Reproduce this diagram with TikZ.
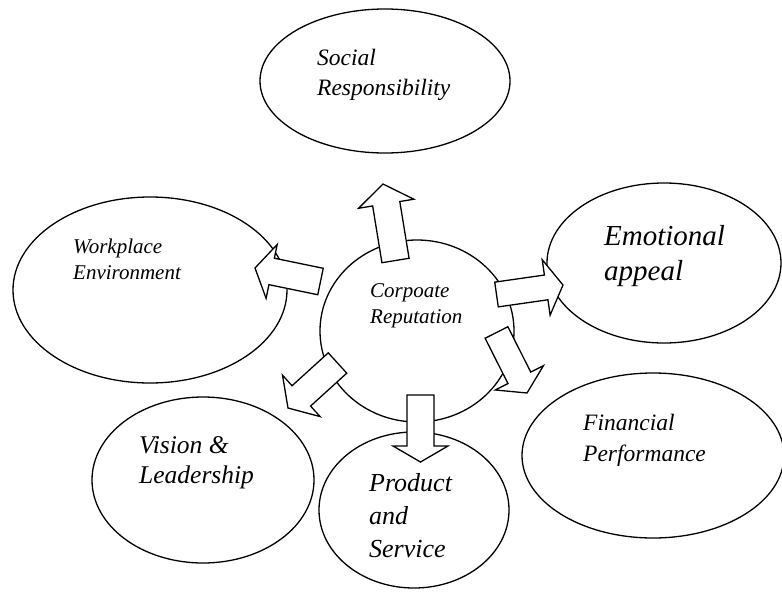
\documentclass[tikz,border=0pt]{standalone}
\usepackage{fontspec}
\setmainfont{Liberation Serif}
\usetikzlibrary{shapes.geometric,calc}

% italic label font: size and leading in pt
\newcommand{\lblfont}[2]{\itshape\fontsize{#1}{#2}\selectfont}

% hollow block arrow from a tail coordinate to a tip coordinate
% #1 tail, #2 tip, #3 half shaft width, #4 half head width, #5 head length
\newcommand{\blockarrow}[5]{%
  \coordinate (#2-hb) at ($(#2)!#5!(#1)$);
  \draw[blockarrowline]
    ($(#1)!#3!90:(#2)$) -- ($(#2-hb)!#3!90:(#2)$) -- ($(#2-hb)!#4!90:(#2)$) -- (#2)
    -- ($(#2-hb)!#4!-90:(#2)$) -- ($(#2-hb)!#3!-90:(#2)$) -- ($(#1)!#3!-90:(#2)$) -- cycle;
}

\tikzset{
  bubble/.style={draw, ellipse, line width=1.3pt, inner sep=0pt},
  % anchored at the baseline of the last line
  lbl/.style={anchor=base west, inner sep=0pt, align=left},
  blockarrowline/.style={draw, fill=white, line width=1.3pt, line join=miter}
}

\begin{document}
\begin{tikzpicture}[x=1pt, y=-1pt]
  \useasboundingbox (0,0) rectangle (782,592);

  % surrounding ellipses and the central circle
  \node[bubble, minimum width=250pt, minimum height=144pt] (soc) at (385,81) {};
  \node[bubble, minimum width=274pt, minimum height=186pt] (wp)  at (150,290) {};
  \node[bubble, minimum width=234pt, minimum height=160pt] (emo) at (664,263) {};
  \node[bubble, minimum width=194pt, minimum height=182pt] (cr)  at (417,331) {};
  \node[bubble, minimum width=262pt, minimum height=165pt] (fin) at (653,455.5) {};
  \node[bubble, minimum width=222pt, minimum height=166pt] (vis) at (203,480) {};
  \node[bubble, minimum width=190pt, minimum height=156pt] (ps)  at (414,510) {};

  % labels
  \node[lbl, font=\lblfont{23.5}{30}] (soc-l) at (317,95)  {Social\\Responsibility};
  \node[lbl, font=\lblfont{21}{26}]   (wp-l)  at (73,279)  {Workplace\\Environment};
  \node[lbl, font=\lblfont{21}{26}]   (cr-l)  at (370,323) {Corpoate\\Reputation};
  \node[lbl, font=\lblfont{29}{35}]   (emo-l) at (604,280) {Emotional\\appeal};
  \node[lbl, font=\lblfont{23.5}{31}] (fin-l) at (583,461) {Financial\\Performance};
  \node[lbl, font=\lblfont{25.5}{30}] (vis-l) at (139,483) {Vision \&\\Leadership};
  \node[lbl, font=\lblfont{26}{33}]   (ps-l)  at (369,557) {Product\\and\\Service};

  % arrow ends around the central circle
  \coordinate (soc-a0) at (395.5,260.5); \coordinate (soc-a1) at (383,184);
  \coordinate (wp-a0)  at (320.5,281.5); \coordinate (wp-a1)  at (255,268);
  \coordinate (emo-a0) at (496.5,294.5); \coordinate (emo-a1) at (563,285);
  \coordinate (fin-a0) at (496.5,332.5); \coordinate (fin-a1) at (527,393);
  \coordinate (vis-a0) at (337.5,363);   \coordinate (vis-a1) at (288,408);
  \coordinate (ps-a0)  at (420.5,395);   \coordinate (ps-a1)  at (420.5,462);

  % block arrows pointing outwards
  \blockarrow{soc-a0}{soc-a1}{13.75pt}{28pt}{20pt}
  \blockarrow{wp-a0}{wp-a1}{13.5pt}{27.5pt}{17pt}
  \blockarrow{emo-a0}{emo-a1}{12.5pt}{28pt}{17pt}
  \blockarrow{fin-a0}{fin-a1}{12.75pt}{27pt}{17pt}
  \blockarrow{vis-a0}{vis-a1}{13.75pt}{28pt}{18pt}
  \blockarrow{ps-a0}{ps-a1}{13.5pt}{27.5pt}{16pt}
\end{tikzpicture}
\end{document}
